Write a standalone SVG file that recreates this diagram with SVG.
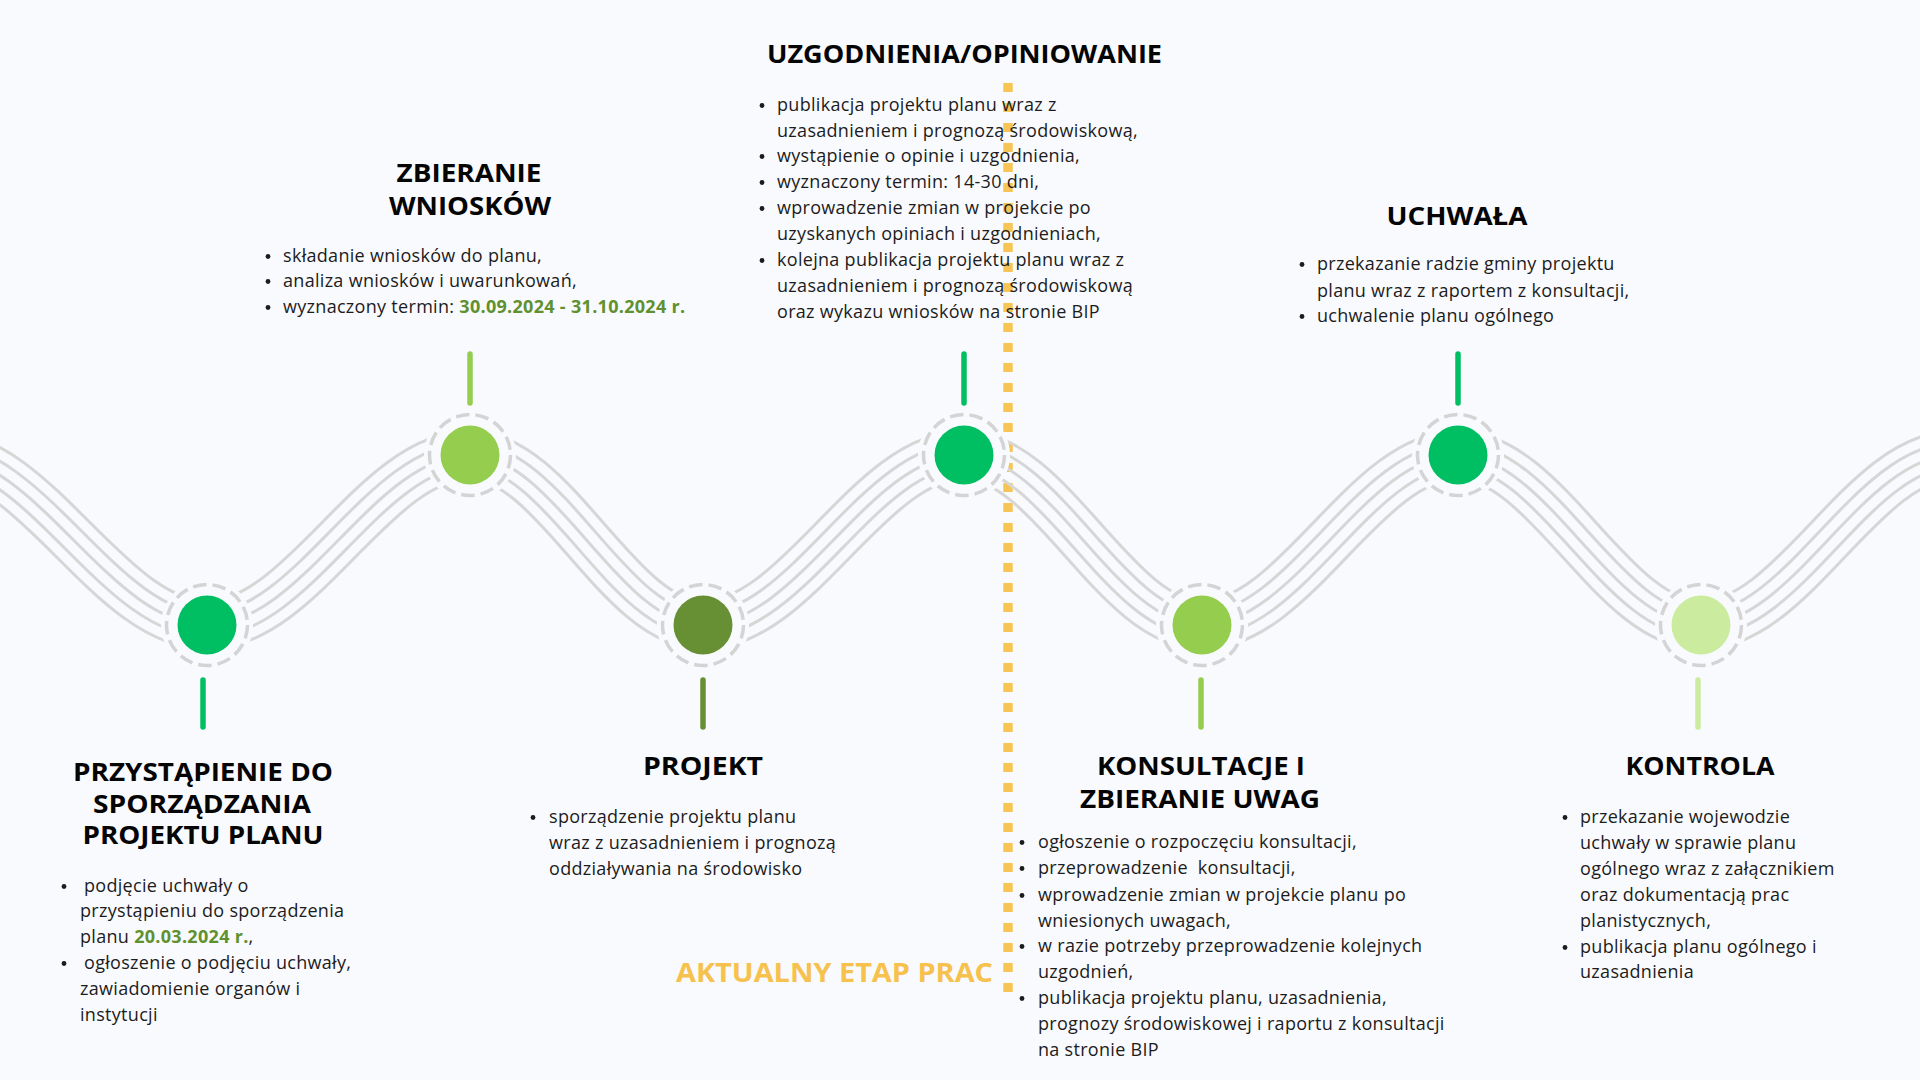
<svg xmlns="http://www.w3.org/2000/svg" xmlns:xlink="http://www.w3.org/1999/xlink" width="1920" height="1080" viewBox="0 0 1920 1080">
<style>
.t{font-family:"Open Sans","Liberation Sans",sans-serif;font-weight:700;font-size:25px;fill:#050505;text-anchor:middle}
.b{font-family:"Open Sans","Liberation Sans",sans-serif;font-size:18px;letter-spacing:0.3px;fill:#1c1c1c}
.d{font-weight:700;fill:#5f912e}
.dot{fill:#1c1c1c}
.disc{fill:#f9fafe}
.ring{fill:none;stroke:#d4d4d4;stroke-width:3.5;stroke-dasharray:13.6 6}
.stem{stroke-width:5.5;stroke-linecap:round}
.akt{font-family:"Open Sans","Liberation Sans",sans-serif;font-weight:700;font-size:27px;fill:#f6c14d}
</style>
<defs>
<path id="wave" fill="none" stroke-linejoin="round" d="M -60 455 C 37 455 110 625 207 625 C 303 625 374 455 470 455 C 555 455 618 625 703 625 C 798 625 869 455 964 455 C 1051 455 1115 625 1202 625 C 1295 625 1365 455 1458 455 C 1547 455 1612 625 1701 625 C 1794 625 1862 455 1955 455 L 2010 455"/>
<mask id="wm" maskUnits="userSpaceOnUse" x="0" y="0" width="1920" height="1080">
<use xlink:href="#wave" href="#wave" stroke="#fff" stroke-width="51"/>
<use xlink:href="#wave" href="#wave" stroke="#000" stroke-width="45"/>
<use xlink:href="#wave" href="#wave" stroke="#fff" stroke-width="27"/>
<use xlink:href="#wave" href="#wave" stroke="#000" stroke-width="21"/>
<use xlink:href="#wave" href="#wave" stroke="#fff" stroke-width="3"/>
</mask>
</defs>
<rect x="0" y="0" width="1920" height="1080" fill="#f9fafe"/>

<g id="current-stage">
<line x1="1008" y1="83" x2="1008" y2="993" stroke="#f6c556" stroke-width="9.5" stroke-dasharray="9 11"/>
<text class="akt" x="676" y="982" textLength="317" lengthAdjust="spacingAndGlyphs">AKTUALNY ETAP PRAC</text>
</g>

<g id="connectors">
<rect x="0" y="0" width="1920" height="1080" fill="#d6d6d6" mask="url(#wm)"/>
</g>

<g id="node-przystapienie">
<circle class="disc" cx="207" cy="625" r="46"/>
<circle class="ring" cx="207" cy="625" r="40.5"/>
<circle cx="207" cy="625" r="29.5" fill="#00bf63"/>
<line class="stem" x1="203" y1="680" x2="203" y2="727" stroke="#00bf63"/>
<text class="t" x="203" y="781" textLength="260" lengthAdjust="spacingAndGlyphs">PRZYSTĄPIENIE DO</text>
<text class="t" x="202" y="813" textLength="218" lengthAdjust="spacingAndGlyphs">SPORZĄDZANIA</text>
<text class="t" x="203" y="844" textLength="241" lengthAdjust="spacingAndGlyphs">PROJEKTU PLANU</text>
<circle class="dot" cx="64" cy="886.5" r="2.4"/>
<circle class="dot" cx="64" cy="963.5" r="2.4"/>
<text class="b" x="84" y="892">podjęcie uchwały o</text>
<text class="b" x="80" y="917">przystąpieniu do sporządzenia</text>
<text class="b" x="80" y="943">planu <tspan class="d">20.03.2024 r.</tspan>,</text>
<text class="b" x="84" y="969">ogłoszenie o podjęciu uchwały,</text>
<text class="b" x="80" y="995">zawiadomienie organów i</text>
<text class="b" x="80" y="1021">instytucji</text>
</g>

<g id="node-zbieranie">
<circle class="disc" cx="470" cy="455" r="46"/>
<circle class="ring" cx="470" cy="455" r="40.5"/>
<circle cx="470" cy="455" r="29.5" fill="#95cd4e"/>
<line class="stem" x1="470" y1="354" x2="470" y2="403" stroke="#95cd4e"/>
<text class="t" x="469" y="182" textLength="145" lengthAdjust="spacingAndGlyphs">ZBIERANIE</text>
<text class="t" x="470" y="215" textLength="162" lengthAdjust="spacingAndGlyphs">WNIOSKÓW</text>
<circle class="dot" cx="268" cy="256.5" r="2.4"/>
<circle class="dot" cx="268" cy="281.5" r="2.4"/>
<circle class="dot" cx="268" cy="307.5" r="2.4"/>
<text class="b" x="283" y="262">składanie wniosków do planu,</text>
<text class="b" x="283" y="287">analiza wniosków i uwarunkowań,</text>
<text class="b" x="283" y="313">wyznaczony termin: <tspan class="d">30.09.2024 - 31.10.2024 r.</tspan></text>
</g>

<g id="node-projekt">
<circle class="disc" cx="703" cy="625" r="46"/>
<circle class="ring" cx="703" cy="625" r="40.5"/>
<circle cx="703" cy="625" r="29.5" fill="#678f33"/>
<line class="stem" x1="703" y1="680" x2="703" y2="727" stroke="#678f33"/>
<text class="t" x="703" y="775" textLength="120" lengthAdjust="spacingAndGlyphs">PROJEKT</text>
<circle class="dot" cx="533" cy="817.5" r="2.4"/>
<text class="b" x="549" y="823">sporządzenie projektu planu</text>
<text class="b" x="549" y="849">wraz z uzasadnieniem i prognozą</text>
<text class="b" x="549" y="875">oddziaływania na środowisko</text>
</g>

<g id="node-uzgodnienia">
<circle class="disc" cx="964" cy="455" r="46"/>
<circle class="ring" cx="964" cy="455" r="40.5"/>
<circle cx="964" cy="455" r="29.5" fill="#00bf63"/>
<line class="stem" x1="964" y1="354" x2="964" y2="403" stroke="#00bf63"/>
<text class="t" x="964.5" y="63" textLength="395" lengthAdjust="spacingAndGlyphs">UZGODNIENIA/OPINIOWANIE</text>
<circle class="dot" cx="762" cy="105.5" r="2.4"/>
<circle class="dot" cx="762" cy="156.5" r="2.4"/>
<circle class="dot" cx="762" cy="182.5" r="2.4"/>
<circle class="dot" cx="762" cy="208.5" r="2.4"/>
<circle class="dot" cx="762" cy="260.5" r="2.4"/>
<text class="b" x="777" y="111">publikacja projektu planu wraz z</text>
<text class="b" x="777" y="137">uzasadnieniem i prognozą środowiskową,</text>
<text class="b" x="777" y="162">wystąpienie o opinie i uzgodnienia,</text>
<text class="b" x="777" y="188">wyznaczony termin: 14-30 dni,</text>
<text class="b" x="777" y="214">wprowadzenie zmian w projekcie po</text>
<text class="b" x="777" y="240">uzyskanych opiniach i uzgodnieniach,</text>
<text class="b" x="777" y="266">kolejna publikacja projektu planu wraz z</text>
<text class="b" x="777" y="292">uzasadnieniem i prognozą środowiskową</text>
<text class="b" x="777" y="318">oraz wykazu wniosków na stronie BIP</text>
</g>

<g id="node-konsultacje">
<circle class="disc" cx="1202" cy="625" r="46"/>
<circle class="ring" cx="1202" cy="625" r="40.5"/>
<circle cx="1202" cy="625" r="29.5" fill="#95cd4e"/>
<line class="stem" x1="1201" y1="680" x2="1201" y2="727" stroke="#95cd4e"/>
<text class="t" x="1201" y="775" textLength="208" lengthAdjust="spacingAndGlyphs">KONSULTACJE I</text>
<text class="t" x="1200" y="808" textLength="240" lengthAdjust="spacingAndGlyphs">ZBIERANIE UWAG</text>
<circle class="dot" cx="1022" cy="842.5" r="2.4"/>
<circle class="dot" cx="1022" cy="868.5" r="2.4"/>
<circle class="dot" cx="1022" cy="895.5" r="2.4"/>
<circle class="dot" cx="1022" cy="946.5" r="2.4"/>
<circle class="dot" cx="1022" cy="998.5" r="2.4"/>
<text class="b" x="1038" y="848">ogłoszenie o rozpoczęciu konsultacji,</text>
<text class="b" x="1038" y="874" xml:space="preserve">przeprowadzenie  konsultacji,</text>
<text class="b" x="1038" y="901">wprowadzenie zmian w projekcie planu po</text>
<text class="b" x="1038" y="927">wniesionych uwagach,</text>
<text class="b" x="1038" y="952">w razie potrzeby przeprowadzenie kolejnych</text>
<text class="b" x="1038" y="978">uzgodnień,</text>
<text class="b" x="1038" y="1004">publikacja projektu planu, uzasadnienia,</text>
<text class="b" x="1038" y="1030">prognozy środowiskowej i raportu z konsultacji</text>
<text class="b" x="1038" y="1056">na stronie BIP</text>
</g>

<g id="node-uchwala">
<circle class="disc" cx="1458" cy="455" r="46"/>
<circle class="ring" cx="1458" cy="455" r="40.5"/>
<circle cx="1458" cy="455" r="29.5" fill="#00bf63"/>
<line class="stem" x1="1458" y1="354" x2="1458" y2="403" stroke="#00bf63"/>
<text class="t" x="1457" y="225" textLength="141" lengthAdjust="spacingAndGlyphs">UCHWAŁA</text>
<circle class="dot" cx="1302" cy="264.5" r="2.4"/>
<circle class="dot" cx="1302" cy="316.5" r="2.4"/>
<text class="b" x="1317" y="270">przekazanie radzie gminy projektu</text>
<text class="b" x="1317" y="297">planu wraz z raportem z konsultacji,</text>
<text class="b" x="1317" y="322">uchwalenie planu ogólnego</text>
</g>

<g id="node-kontrola">
<circle class="disc" cx="1701" cy="625" r="46"/>
<circle class="ring" cx="1701" cy="625" r="40.5"/>
<circle cx="1701" cy="625" r="29.5" fill="#cbeb9f"/>
<line class="stem" x1="1698" y1="680" x2="1698" y2="727" stroke="#cbeb9f"/>
<text class="t" x="1700" y="775" textLength="149" lengthAdjust="spacingAndGlyphs">KONTROLA</text>
<circle class="dot" cx="1565" cy="817.5" r="2.4"/>
<circle class="dot" cx="1565" cy="947.5" r="2.4"/>
<text class="b" x="1580" y="823">przekazanie wojewodzie</text>
<text class="b" x="1580" y="849">uchwały w sprawie planu</text>
<text class="b" x="1580" y="875">ogólnego wraz z załącznikiem</text>
<text class="b" x="1580" y="901">oraz dokumentacją prac</text>
<text class="b" x="1580" y="927">planistycznych,</text>
<text class="b" x="1580" y="953">publikacja planu ogólnego i</text>
<text class="b" x="1580" y="978">uzasadnienia</text>
</g>
</svg>
